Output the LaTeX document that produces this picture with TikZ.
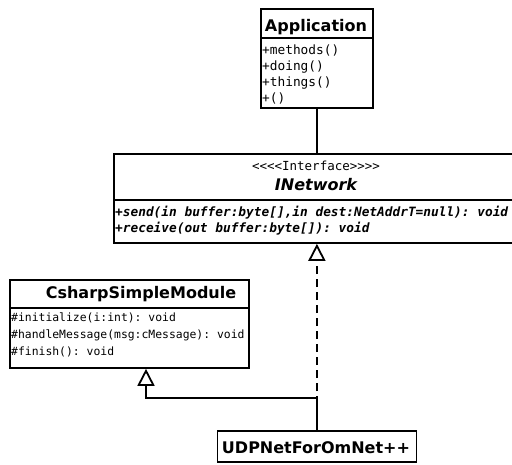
\documentclass[tikz,border=0pt]{standalone}
\usepackage{fontspec}
\setmainfont{DejaVu Sans}
\setmonofont{DejaVu Sans Mono}
\usetikzlibrary{arrows.meta}
\begin{document}
\begin{tikzpicture}[x=1pt,y=-1pt,
  umlbox/.style={draw, line width=1.8pt, inner sep=0pt, anchor=north west, fill=white},
  classname/.style={font=\fontsize{16}{16}\selectfont\bfseries, inner sep=0pt, anchor=base},
  absname/.style={font=\fontsize{16}{16}\selectfont\bfseries\itshape, inner sep=0pt, anchor=base},
  stereo/.style={font=\fontsize{12.5}{13}\selectfont\ttfamily, inner sep=0pt, anchor=base},
  member/.style={font=\fontsize{12.8}{13}\selectfont\ttfamily, inner sep=0pt, anchor=base west},
  smallmember/.style={font=\fontsize{11.4}{12}\selectfont\ttfamily, inner sep=0pt, anchor=base west},
  absmember/.style={font=\fontsize{12.8}{13}\selectfont\ttfamily\bfseries\itshape, inner sep=0pt, anchor=base west},
  sepline/.style={line width=1.8pt},
  link/.style={line width=1.8pt},
  gen/.style={line width=1.8pt, -{Triangle[open, width=17pt, length=17pt, line width=1.8pt]}},
]
\useasboundingbox[fill=white] (0,0) rectangle (512,464);

% Application
\node[umlbox, minimum width=112pt, minimum height=99pt] (app) at (260,8) {};
\draw[sepline] ([yshift=-30pt]app.north west) -- ([yshift=-30pt]app.north east);
\node[classname] (appname) at (316,31) {Application};
\node[member] (am1) at (262,54) {+methods()};
\node[member] (am2) at (262,70) {+doing()};
\node[member] (am3) at (262,86) {+things()};
\node[member] (am4) at (262,102) {+()};

% INetwork
\node[umlbox, minimum width=406pt, minimum height=89pt] (inet) at (113,153) {};
\draw[sepline] ([yshift=-47pt]inet.north west) -- ([yshift=-47pt]inet.north east);
\node[stereo] (inst) at (316,170) {<<<<Interface>>>>};
\node[absname] (inname) at (316,190) {INetwork};
\node[absmember] (im1) at (115,216) {+send(in buffer:byte[],in dest:NetAddrT=null): void};
\node[absmember] (im2) at (115,232) {+receive(out buffer:byte[]): void};

% CsharpSimpleModule
\node[umlbox, minimum width=239pt, minimum height=88pt] (cs) at (9,279) {};
\draw[sepline] ([yshift=-29pt]cs.north west) -- ([yshift=-29pt]cs.north east);
\node[classname] (csname) at (141,298) {CsharpSimpleModule};
\node[smallmember] (cm1) at (11,321) {\#initialize(i:int): void};
\node[smallmember] (cm2) at (11,338) {\#handleMessage(msg:cMessage): void};
\node[smallmember] (cm3) at (11,355) {\#finish(): void};

% UDPNetForOmNet++
\node[umlbox, minimum width=199pt, minimum height=31pt] (udp) at (216.5,430) {};
\node[classname] (udpname) at (316,453) {UDPNetForOmNet++};

% connectors
\coordinate (bend) at (146,398);
\draw[link] (app.south) -- (inet.north);
\draw[gen, dash pattern=on 8pt off 5pt] (udp.north) -- (inet.south);
\draw[gen] (udp.north) |- (bend) -- (bend |- cs.south);
\end{tikzpicture}
\end{document}
